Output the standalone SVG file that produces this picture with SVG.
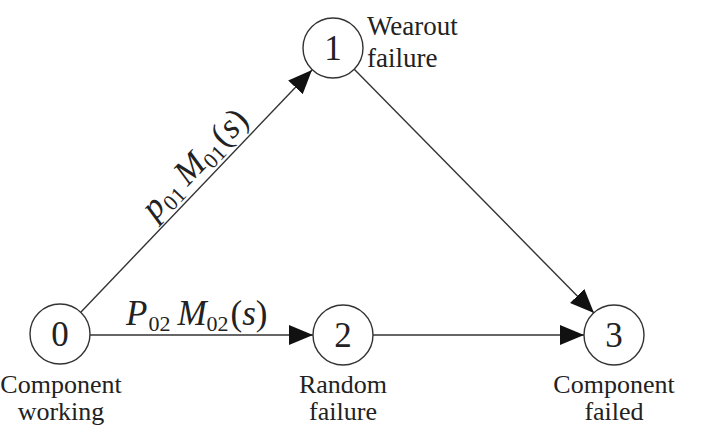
<svg xmlns="http://www.w3.org/2000/svg" width="705" height="432" viewBox="0 0 705 432">
<defs>
<marker id="ah" markerUnits="userSpaceOnUse" markerWidth="26" markerHeight="22" refX="24" refY="10" orient="auto">
<path d="M0,0 L24,10 L0,20 z" fill="#111"/>
</marker>
<style>
.n{fill:#fff;stroke:#333;stroke-width:1.4}
.d{font-family:"Liberation Serif",serif;font-size:35px;fill:#222;text-anchor:middle}
.l{font-family:"Liberation Serif",serif;font-size:26px;fill:#222;text-anchor:middle}
.w{font-family:"Liberation Serif",serif;font-size:27px;fill:#222}
.f{font-family:"Liberation Serif",serif;font-size:35px;fill:#222}
.s{font-size:22px}
.e{stroke:#333;stroke-width:1.4;fill:none;marker-end:url(#ah)}
</style>
</defs>
<rect width="705" height="432" fill="#fff"/>
<g id="connectors">
<line class="e" x1="90" y1="335" x2="313" y2="335"/>
<line class="e" x1="373" y1="335" x2="584" y2="335"/>
<line class="e" x1="81" y1="312" x2="312" y2="70"/>
<line class="e" x1="354" y1="69" x2="594" y2="313"/>
<text class="f" x="126" y="325"><tspan font-style="italic">P</tspan><tspan class="s" dy="6" dx="1">02</tspan><tspan font-style="italic" dy="-6" dx="7">M</tspan><tspan class="s" dy="6">02</tspan><tspan dy="-6" dx="2">(</tspan><tspan font-style="italic">s</tspan><tspan>)</tspan></text>
<text class="f" transform="translate(155,221) rotate(-46.3)"><tspan font-style="italic">p</tspan><tspan class="s" dy="6" dx="1">01</tspan><tspan font-style="italic" dy="-6" dx="7">M</tspan><tspan class="s" dy="6">01</tspan><tspan dy="-6" dx="2">(</tspan><tspan font-style="italic">s</tspan><tspan>)</tspan></text>
</g>
<g id="node0">
<circle class="n" cx="60" cy="334" r="30"/>
<text class="d" x="60" y="346">0</text>
<text class="l" x="61" y="393">Component</text>
<text class="l" x="61" y="420">working</text>
</g>
<g id="node1">
<circle class="n" cx="333" cy="48" r="30"/>
<text class="d" x="333" y="60">1</text>
<text class="w" x="367" y="35">Wearout</text>
<text class="w" x="367" y="67">failure</text>
</g>
<g id="node2">
<circle class="n" cx="343" cy="335" r="30"/>
<text class="d" x="343" y="347">2</text>
<text class="l" x="343" y="393">Random</text>
<text class="l" x="343" y="420">failure</text>
</g>
<g id="node3">
<circle class="n" cx="614" cy="335" r="30"/>
<text class="d" x="614" y="347">3</text>
<text class="l" x="614" y="393">Component</text>
<text class="l" x="614" y="420">failed</text>
</g>
</svg>
